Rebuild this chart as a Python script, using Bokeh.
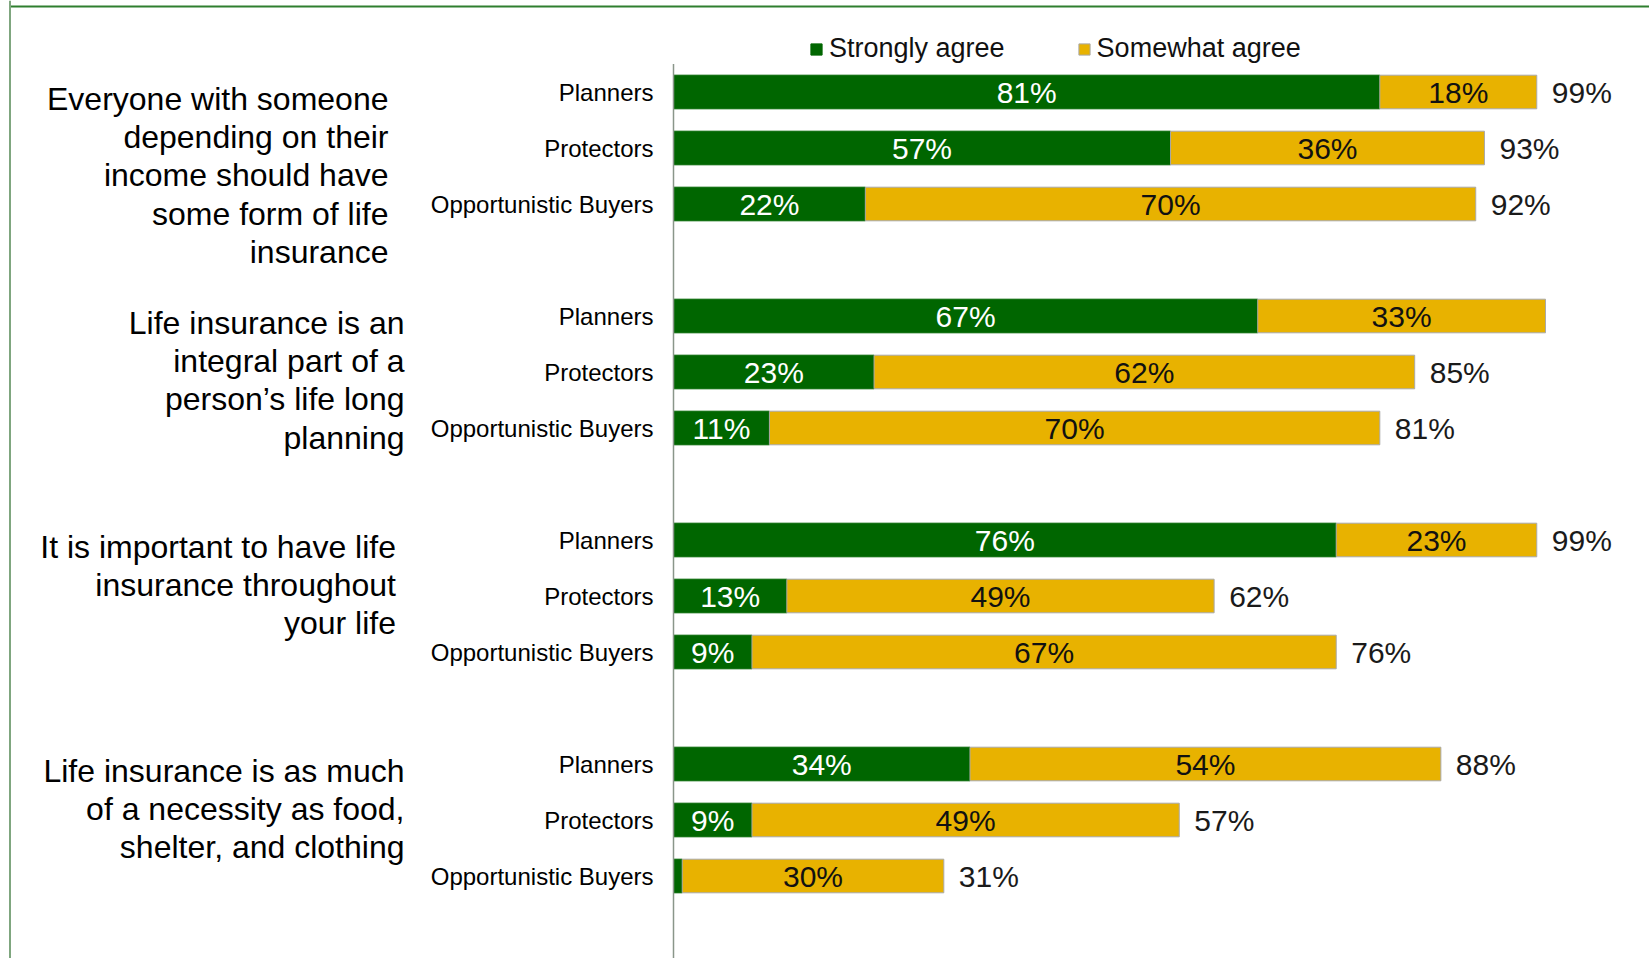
from bokeh.plotting import figure
from bokeh.models import Range1d, Span, Legend, LegendItem, ColumnDataSource
from bokeh.embed import file_html
from bokeh.resources import INLINE
from bokeh.core.properties import value

# ---------------- data ----------------
questions = [
    ["Everyone with someone", "depending on their", "income should have",
     "some form of life", "insurance"],
    ["Life insurance is an", "integral part of a", "person\u2019s life long", "planning"],
    ["It is important to have life", "insurance throughout", "your life"],
    ["Life insurance is as much", "of a necessity as food,", "shelter, and clothing"],
]
segments = ["Planners", "Protectors", "Opportunistic Buyers"]
strongly = [81, 57, 22, 67, 23, 11, 76, 13, 9, 34, 9, 1]
somewhat = [18, 36, 70, 33, 62, 70, 23, 49, 67, 54, 49, 30]
totals = [99, 93, 92, None, 85, 81, 99, 62, 76, 88, 57, 31]
series_names = ["Strongly agree", "Somewhat agree"]

# ---------------- styling / layout ----------------
GREEN = "#006600"
GOLD = "#E8B200"
FONT_NAME = "Liberation Sans"
FONT = value(FONT_NAME)
X0_PX, PX_PER_PCT = 673.0, 8.72
Y0_PX, ROW_PX = 91.5, 56.0
ORIGIN = 0  # page offset of the figure


def dx(px):
    return (px - X0_PX) / PX_PER_PCT


def dy(py):
    return (py - Y0_PX) / ROW_PX


W, H = 1649, 958
p = figure(width=W, height=H, output_backend="svg", toolbar_location=None,
           x_range=Range1d(dx(ORIGIN), dx(ORIGIN + W)),
           y_range=Range1d(dy(ORIGIN + H), dy(ORIGIN)),
           x_axis_type=None, y_axis_type=None, min_border=0,
           outline_line_color=None, background_fill_color="white")
p.xgrid.visible = False
p.ygrid.visible = False

rows = [g * 4 + s for g in range(len(questions)) for s in range(len(segments))]
seg_names = [segments[s] for g in range(len(questions)) for s in range(len(segments))]
ends = [a + b for a, b in zip(strongly, somewhat)]

src = ColumnDataSource(dict(y=rows, s=strongly, w=somewhat, e=ends))
r_green = p.hbar(y="y", left=0, right="s", height=0.6, source=src,
                 fill_color=GREEN, line_color=GREEN, line_width=1)
r_gold = p.hbar(y="y", left="s", right="e", height=0.6, source=src,
                fill_color=GOLD, line_color="#A9A9A9", line_width=1)

# value labels inside bars
gx = [v / 2 for v in strongly if v >= 5]
gy = [r for r, v in zip(rows, strongly) if v >= 5]
gt = [f"{v}%" for v in strongly if v >= 5]
p.text(x=gx, y=gy, text=gt, text_color="white", text_font=FONT,
       text_font_size="30px", text_align="center", text_baseline="middle")

ox = [a + b / 2 for a, b in zip(strongly, somewhat)]
ot = [f"{b}%" for b in somewhat]
p.text(x=ox, y=rows, text=ot, text_color="#111111", text_font=FONT,
       text_font_size="30px", text_align="center", text_baseline="middle")

# totals
tx = [e for e, t in zip(ends, totals) if t is not None]
ty = [r for r, t in zip(rows, totals) if t is not None]
tt = [f"{t}%" for t in totals if t is not None]
p.text(x=tx, y=ty, text=tt, text_color="#1a1a1a", text_font=FONT,
       text_font_size="30px", text_align="left", text_baseline="middle",
       x_offset=15)

# segment labels
p.text(x=[0] * len(rows), y=rows, text=seg_names, text_color="#000000",
       text_font=FONT, text_font_size="24px", text_align="right",
       text_baseline="middle", x_offset=-20)

# question texts
q_right_px = [388, 404, 395.5, 404]
q_first_px = [98, 322, 546, 770]
LINE_PX = 38.4
qx, qy, qt = [], [], []
for qi, lines in enumerate(questions):
    for k, line in enumerate(lines):
        qx.append(dx(q_right_px[qi]))
        qy.append(dy(q_first_px[qi] + k * LINE_PX))
        qt.append(line)
p.text(x=qx, y=qy, text=qt, text_color="#000000", text_font=FONT,
       text_font_size="32px", text_align="right", text_baseline="middle")

# vertical category axis line
p.segment(x0=[0], y0=[-0.5], x1=[0], y1=[dy(ORIGIN + H) + 1], line_color="#8A968A",
          line_width=1.5)

# slide border (top and left)
p.segment(x0=[dx(8.5)], y0=[dy(6)], x1=[dx(ORIGIN + W) + 1], y1=[dy(6)],
          line_color="#2F7F2F", line_width=2)
p.add_layout(Span(location=dx(9.5), dimension="height", line_color="#7FA67F", line_width=2))
p.segment(x0=[dx(9.5)], y0=[dy(6)], x1=[dx(9.5)], y1=[dy(ORIGIN + H) + 1],
          line_color="#7FA67F", line_width=2)

legend = Legend(items=[LegendItem(label=series_names[0], renderers=[r_green]),
                       LegendItem(label=series_names[1], renderers=[r_gold])],
                orientation="horizontal", location=(809, 894),
                glyph_width=14, glyph_height=14, label_standoff=6, spacing=72,
                padding=0, margin=0, border_line_color=None,
                background_fill_alpha=0, label_text_font=FONT_NAME,
                label_text_font_size="27px", label_text_color="#111111")
p.add_layout(legend)

open("out.html", "w").write(file_html(p, INLINE))
